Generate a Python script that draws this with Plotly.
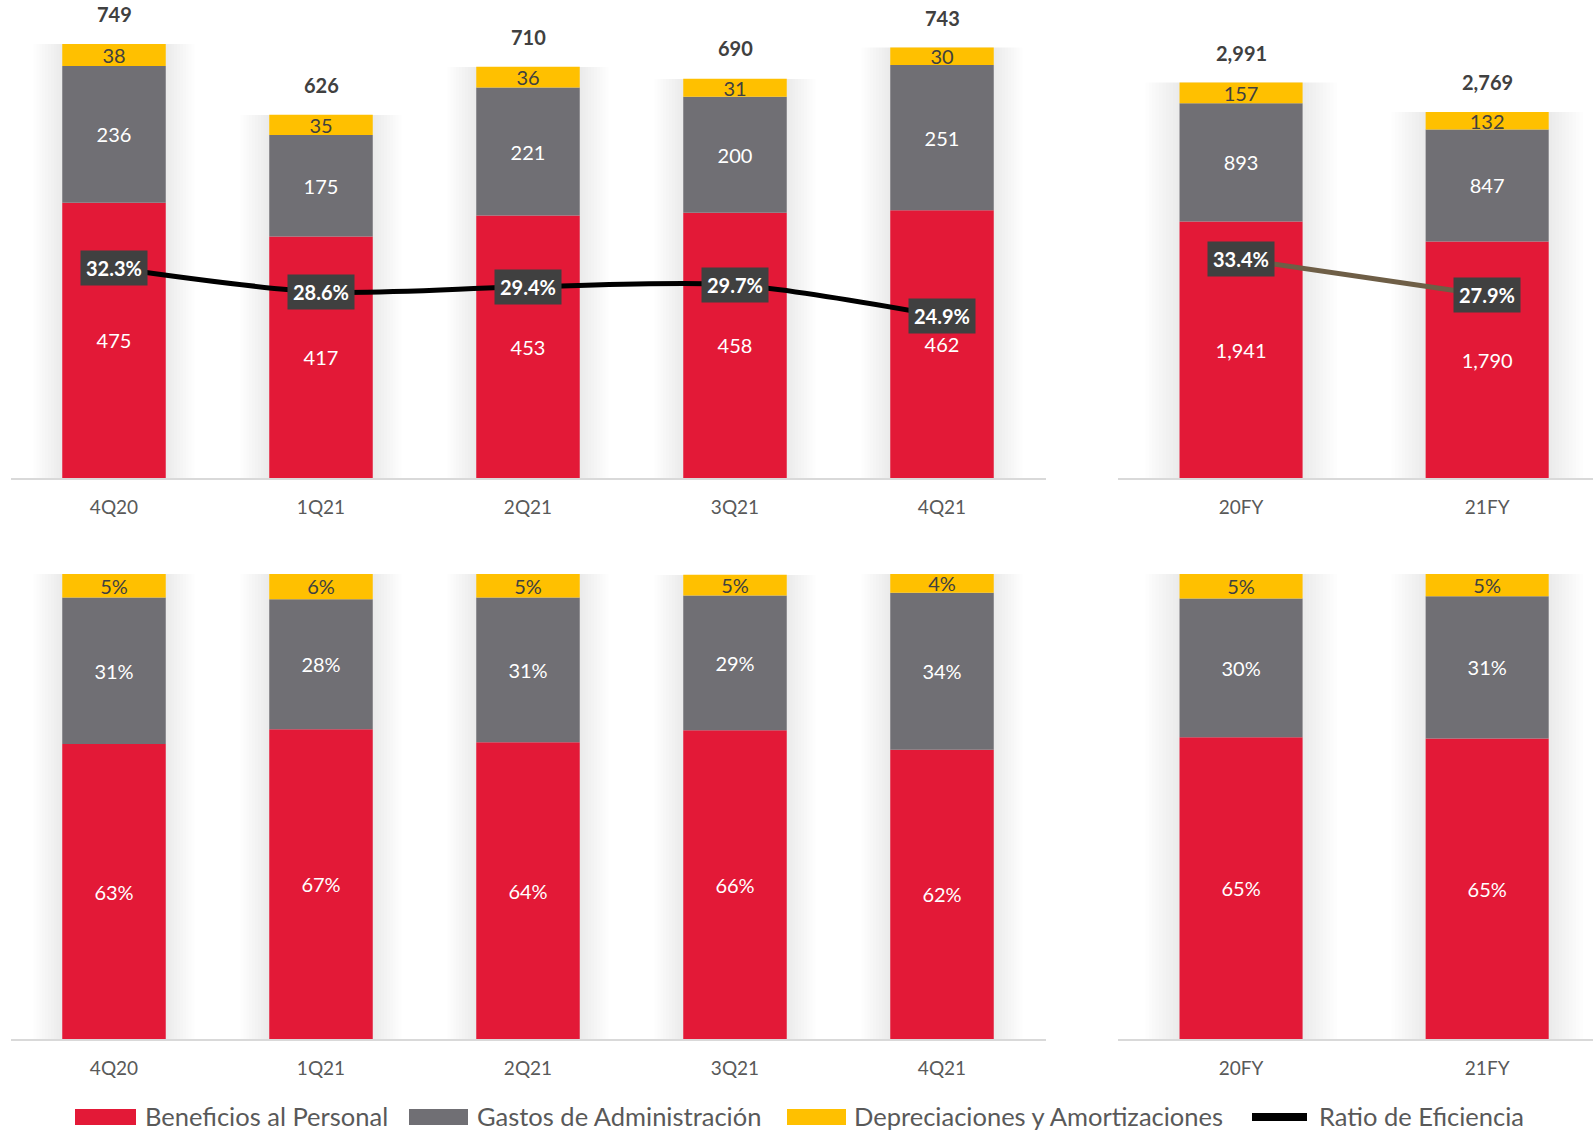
import plotly.graph_objects as go

# ---------------- data ----------------
quarters = ["4Q20", "1Q21", "2Q21", "3Q21", "4Q21"]
q_personal = [475, 417, 453, 458, 462]
q_admin = [236, 175, 221, 200, 251]
q_deprec = [38, 35, 36, 31, 30]
q_total = [749, 626, 710, 690, 743]
q_ratio = [32.3, 28.6, 29.4, 29.7, 24.9]

years = ["20FY", "21FY"]
y_personal = [1941, 1790]
y_admin = [893, 847]
y_deprec = [157, 132]
y_total = [2991, 2769]
y_ratio = [33.4, 27.9]

q_pct_personal = ["63%", "67%", "64%", "66%", "62%"]
q_pct_admin = ["31%", "28%", "31%", "29%", "34%"]
q_pct_deprec = ["5%", "6%", "5%", "5%", "4%"]
y_pct_personal = ["65%", "65%"]
y_pct_admin = ["30%", "31%"]
y_pct_deprec = ["5%", "5%"]

legend_names = ["Beneficios al Personal", "Gastos de Administración",
                "Depreciaciones y Amortizaciones", "Ratio de Eficiencia"]

# ---------------- style ----------------
RED = "#E31937"
GREY = "#706F74"
YELLOW = "#FFC000"
DARK = "#404040"
TICK = "#595959"
FONT = "Lato"
W, H = 1593, 1132


def px(x):
    return x / W


def py(y):
    return 1 - y / H


def share(vals, tots):
    return [v / t * 100 for v, t in zip(vals, tots)]


fig = go.Figure()

bar_txt = dict(family=FONT, size=20)


def add_stack(x, vals, texts, xa, ya):
    tops = [sum(c) for c in zip(*vals)]
    # soft shadow behind each bar
    for i in range(10, 0, -1):
        fig.add_trace(go.Bar(
            x=x, y=tops, width=0.5 + 2 * 0.014 * i,
            marker=dict(color="rgba(0,0,0,0.008)", line=dict(width=0)),
            showlegend=False, xaxis=xa, yaxis=ya, hoverinfo="skip"))
    series = [(vals[0], texts[0], RED, "white"),
              (vals[1], texts[1], GREY, "white"),
              (vals[2], texts[2], YELLOW, DARK)]
    base = [0] * len(x)
    for (v, t, c, tc), name in zip(series, legend_names[:3]):
        fig.add_trace(go.Bar(
            x=x, y=v, base=list(base), text=t, texttemplate="%{text}",
            textposition="inside", insidetextanchor="middle", textangle=0,
            constraintext="none",
            textfont=dict(bar_txt, color=tc), marker=dict(color=c, line=dict(width=0)),
            width=0.5, name=name, showlegend=False, xaxis=xa, yaxis=ya,
            hoverinfo="skip"))
        base = [b + vv for b, vv in zip(base, v)]


# top-left: quarterly amounts
add_stack(quarters, [q_personal, q_admin, q_deprec],
          [[f"{v:,}" for v in q_personal], [f"{v:,}" for v in q_admin], [f"{v:,}" for v in q_deprec]],
          "x", "y")
# top-right: yearly amounts
add_stack(years, [y_personal, y_admin, y_deprec],
          [[f"{v:,}" for v in y_personal], [f"{v:,}" for v in y_admin], [f"{v:,}" for v in y_deprec]],
          "x2", "y2")
# bottom-left: quarterly shares
add_stack(quarters, [share(q_personal, q_total), share(q_admin, q_total), share(q_deprec, q_total)],
          [q_pct_personal, q_pct_admin, q_pct_deprec], "x3", "y3")
# bottom-right: yearly shares
add_stack(years, [share(y_personal, y_total), share(y_admin, y_total), share(y_deprec, y_total)],
          [y_pct_personal, y_pct_admin, y_pct_deprec], "x4", "y4")

# efficiency ratio lines
fig.add_trace(go.Scatter(x=quarters, y=q_ratio, mode="lines",
                         line=dict(color="black", width=5, shape="spline", smoothing=0.8),
                         xaxis="x", yaxis="y5", showlegend=False, hoverinfo="skip"))
fig.add_trace(go.Scatter(x=years, y=y_ratio, mode="lines",
                         line=dict(color="#6E5E46", width=5),
                         xaxis="x2", yaxis="y6", showlegend=False, hoverinfo="skip"))

annotations = []
# totals
for cat, tot in zip(quarters, q_total):
    annotations.append(dict(x=cat, y=tot, xref="x", yref="y", text=f"<b>{tot:,}</b>",
                            showarrow=False, yanchor="middle", yshift=30,
                            font=dict(family=FONT, size=20, color=DARK)))
for cat, tot in zip(years, y_total):
    annotations.append(dict(x=cat, y=tot, xref="x2", yref="y2", text=f"<b>{tot:,}</b>",
                            showarrow=False, yanchor="middle", yshift=30,
                            font=dict(family=FONT, size=20, color=DARK)))
# ratio labels
for cat, r in zip(quarters, q_ratio):
    annotations.append(dict(x=cat, y=r, xref="x", yref="y5", text=f"<b>{r:.1f}%</b>",
                            showarrow=False, bgcolor=DARK, borderpad=5,
                            font=dict(family=FONT, size=20, color="white")))
for cat, r in zip(years, y_ratio):
    annotations.append(dict(x=cat, y=r, xref="x2", yref="y6", text=f"<b>{r:.1f}%</b>",
                            showarrow=False, bgcolor=DARK, borderpad=5,
                            font=dict(family=FONT, size=20, color="white")))

# manual legend
shapes = []
sw = [(75, 136, RED), (409, 468, GREY), (787, 846, YELLOW)]
for x0, x1, c in sw:
    shapes.append(dict(type="rect", xref="paper", yref="paper", x0=px(x0), x1=px(x1),
                       y0=py(1125), y1=py(1109), fillcolor=c, line=dict(width=0)))
shapes.append(dict(type="line", xref="paper", yref="paper", x0=px(1252), x1=px(1307),
                   y0=py(1117), y1=py(1117), line=dict(color="black", width=8)))
leg_x = [144, 476, 853, 1318]
for lx, name in zip(leg_x, legend_names):
    annotations.append(dict(x=px(lx), y=py(1116), xref="paper", yref="paper", text=name,
                            showarrow=False, xanchor="left", yanchor="middle", borderpad=0,
                            font=dict(family=FONT, size=25.5, color=TICK)))

xcommon = dict(type="category", showgrid=False, zeroline=False, showline=True,
               linecolor="#D9D9D9", linewidth=2, ticks="", ticklabelstandoff=11,
               tickfont=dict(family=FONT, size=19, color=TICK), fixedrange=True)
ycommon = dict(showgrid=False, zeroline=False, showline=False, showticklabels=False,
               ticks="", fixedrange=True)

top_dom = [py(478), 1.0]
bot_dom = [py(1039), py(574)]
left_dom = [px(10.5), px(1045.5)]
right_dom = [px(1118), 1.0]

fig.update_layout(
    width=W, height=H, margin=dict(l=0, r=0, t=0, b=0),
    paper_bgcolor="white", plot_bgcolor="rgba(0,0,0,0)",
    barmode="overlay", showlegend=False,
    font=dict(family=FONT),
    uniformtext=dict(mode="show", minsize=20),
    xaxis=dict(xcommon, domain=left_dom, anchor="y", range=[-0.5, 4.5]),
    xaxis2=dict(xcommon, domain=right_dom, anchor="y2", range=[-0.5, 1.43]),
    xaxis3=dict(xcommon, domain=left_dom, anchor="y3", range=[-0.5, 4.5]),
    xaxis4=dict(xcommon, domain=right_dom, anchor="y4", range=[-0.5, 1.43]),
    yaxis=dict(ycommon, domain=top_dom, anchor="x", range=[0, 825]),
    yaxis2=dict(ycommon, domain=top_dom, anchor="x2", range=[0, 3616]),
    yaxis3=dict(ycommon, domain=bot_dom, anchor="x3", range=[0, 100]),
    yaxis4=dict(ycommon, domain=bot_dom, anchor="x4", range=[0, 100]),
    yaxis5=dict(ycommon, domain=top_dom, anchor="x", overlaying="y", range=[0, 73.5]),
    yaxis6=dict(ycommon, domain=top_dom, anchor="x2", overlaying="y2", range=[0, 73.0]),
    annotations=annotations, shapes=shapes,
)

fig.write_html("out.html", config={"displayModeBar": False},
               post_script="document.body.style.margin='0';document.body.style.overflow='hidden';")
